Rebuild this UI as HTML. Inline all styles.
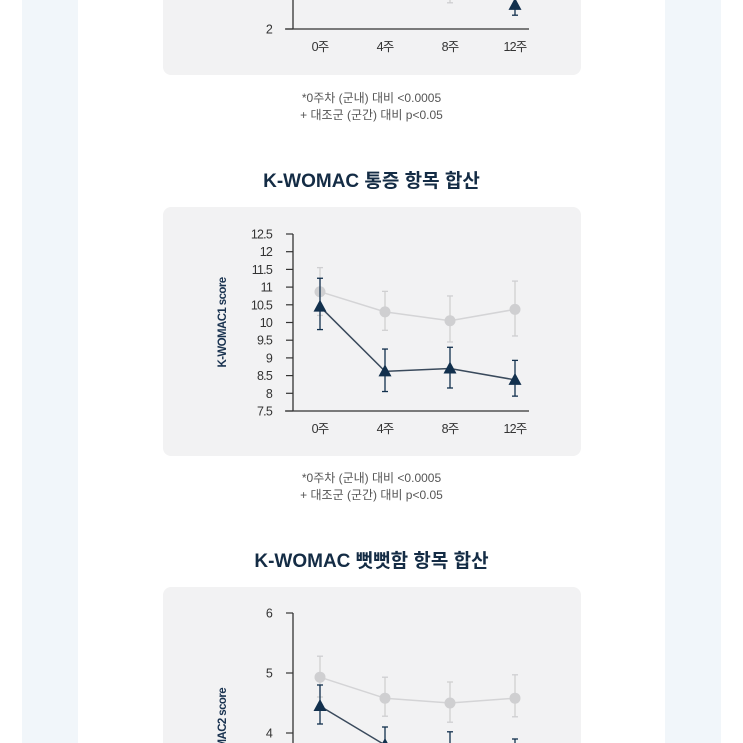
<!DOCTYPE html>
<html><head><meta charset="utf-8">
<style>
html,body{margin:0;padding:0;width:743px;height:743px;overflow:hidden;background:#fff;font-family:"Liberation Sans","Noto Sans CJK KR",sans-serif;position:relative;}
.strip{position:absolute;top:0;height:743px;background:#f1f6fa;}
.panel{position:absolute;left:163px;width:418px;background:#f2f2f3;border-radius:8px;}
.title{position:absolute;left:0;width:743px;text-align:center;font-weight:bold;font-size:19px;color:#142c45;}
.note{position:absolute;left:0;width:743px;text-align:center;font-size:12px;color:#555;line-height:17px;}
svg{position:absolute;left:0;top:0;}
</style></head><body>
<div class="strip" style="left:22px;width:56px"></div>
<div class="strip" style="left:665px;width:56px"></div>
<div class="panel" style="top:-20px;height:95px"></div>
<div class="panel" style="top:207px;height:249px"></div>
<div class="panel" style="top:587px;height:156px;border-radius:8px 8px 0 0"></div>
<div class="note" style="top:90px">*0주차 (군내) 대비 &lt;0.0005<br>+ 대조군 (군간) 대비 p&lt;0.05</div>
<div class="title" style="top:166px">K-WOMAC 통증 항목 합산</div>
<div class="note" style="top:470px">*0주차 (군내) 대비 &lt;0.0005<br>+ 대조군 (군간) 대비 p&lt;0.05</div>
<div class="title" style="top:546px">K-WOMAC 뻣뻣함 항목 합산</div>
<svg id="s" width="743" height="743" viewBox="0 0 743 743"></svg>
<script>
const categories=["0주","4주","8주","12주"];
// chart 1 (partially visible)
const c1Ticks=[2];
const c1Gray=[null,null,2.7,null];
const c1GrayLo=[null,null,2.38,null];
const c1GrayHi=[null,null,2.9,null];
const c1Navy=[null,null,null,2.35];
const c1NavyLo=[null,null,null,2.2];
const c1NavyHi=[null,null,null,2.6];
// chart 2
const c2Ticks=[7.5,8,8.5,9,9.5,10,10.5,11,11.5,12,12.5];
const c2Gray=[10.87,10.3,10.05,10.37];
const c2GrayLo=[10.2,9.78,9.45,9.62];
const c2GrayHi=[11.55,10.88,10.75,11.17];
const c2Navy=[10.45,8.62,8.7,8.38];
const c2NavyLo=[9.8,8.05,8.15,7.92];
const c2NavyHi=[11.25,9.25,9.3,8.93];
// chart 3
const c3Ticks=[4,5,6];
const c3Gray=[4.93,4.58,4.5,4.58];
const c3GrayLo=[4.6,4.28,4.18,4.27];
const c3GrayHi=[5.28,4.93,4.85,4.97];
const c3Navy=[4.45,3.8,3.7,3.65];
const c3NavyLo=[4.15,3.5,3.4,3.4];
const c3NavyHi=[4.8,4.1,4.02,3.9];

const svg=document.getElementById('s');
const NS='http://www.w3.org/2000/svg';
function mk(tag,at,parent){const e=document.createElementNS(NS,tag);for(const k in at)e.setAttribute(k,at[k]);(parent||svg).appendChild(e);return e;}
const xPos=i=>320+i*65;
function chart(id,yMin,yMax,yTop,yBot,ticks,label,g,gl,gh,n,nl,nh,showX){
  const y=v=>yBot-(v-yMin)/(yMax-yMin)*(yBot-yTop);
  const grp=mk('g',{});
  
  
  const ax=mk('line',{x1:293,y1:yTop,x2:293,y2:yBot,stroke:'#333','stroke-width':1.3},grp);
  
  
  const bx=mk('line',{x1:285,y1:yBot,x2:529,y2:yBot,stroke:'#333','stroke-width':1.3},grp);
  
  
  ticks.forEach(t=>{
    mk('line',{x1:286,y1:y(t),x2:293,y2:y(t),stroke:'#333','stroke-width':1.2},grp);
    const tx=mk('text',{x:272,y:y(t)+4.5,'text-anchor':'end','font-size':12.5,fill:'#333','letter-spacing':'-0.8'},grp);
    tx.textContent=t;
    
    
  });
  if(showX) categories.forEach((c,i)=>{
    const tx=mk('text',{x:xPos(i),y:yBot+22,'text-anchor':'middle','font-size':12.5,fill:'#333','letter-spacing':'-0.8'},grp);
    tx.textContent=c;
    
    
  });
  if(label){
    const cy=(yTop+yBot)/2;
    const tx=mk('text',{x:226,y:cy,'text-anchor':'middle','font-size':11.5,'font-weight':'bold',fill:'#1a3350','letter-spacing':'-0.6',transform:`rotate(-90 226 ${cy})`},grp);
    tx.textContent=label;
    
    
  }
  function series(v,lo,hi,col,lineCol,shape,nm){
    let pts=[];
    v.forEach((d,i)=>{if(d!==null)pts.push(xPos(i)+','+y(d));});
    if(pts.length>1){const l=mk('polyline',{points:pts.join(' '),fill:'none',stroke:lineCol,'stroke-width':1.5},grp);
      
      }
    v.forEach((d,i)=>{
      const x=xPos(i);
      if(lo[i]!==null){
        mk('line',{x1:x,y1:y(lo[i]),x2:x,y2:y(hi[i]),stroke:col,'stroke-width':1.3},grp);
        mk('line',{x1:x-3,y1:y(lo[i]),x2:x+3,y2:y(lo[i]),stroke:col,'stroke-width':1.3},grp);
        mk('line',{x1:x-3,y1:y(hi[i]),x2:x+3,y2:y(hi[i]),stroke:col,'stroke-width':1.3},grp);
      }
      if(d===null)return;
      let m;
      if(shape==='c') m=mk('circle',{cx:x,cy:y(d),r:5.5,fill:col},grp);
      else m=mk('polygon',{points:`${x},${y(d)-7} ${x-6.5},${y(d)+5} ${x+6.5},${y(d)+5}`,fill:col},grp);
      
      
    });
  }
  series(g,gl,gh,'#cfcfd1','#d4d4d6','c','control');
  series(n,nl,nh,'#12304d','#3a4a5c','t','treatment');
}
chart('chart-1',2,3,-40,29,c1Ticks,null,c1Gray,c1GrayLo,c1GrayHi,c1Navy,c1NavyLo,c1NavyHi,true);
// 8주 whisker in chart-1 is navy in reference
chart('chart-2-pain',7.5,12.5,234,411,c2Ticks,'K-WOMAC1 score',c2Gray,c2GrayLo,c2GrayHi,c2Navy,c2NavyLo,c2NavyHi,true);
chart('chart-3-stiffness',2,6,613,853,c3Ticks,'K-WOMAC2 score',c3Gray,c3GrayLo,c3GrayHi,c3Navy,c3NavyLo,c3NavyHi,false);
</script>
</body></html>
